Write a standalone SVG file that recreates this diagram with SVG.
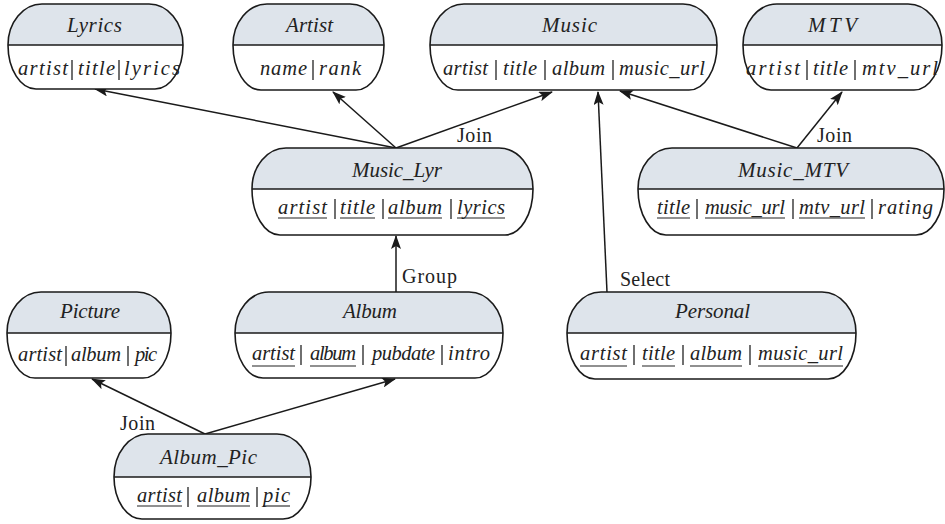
<svg xmlns="http://www.w3.org/2000/svg" width="945" height="524" viewBox="0 0 945 524">
<style>
.out{fill:none;stroke:#1a1a1a;stroke-width:1.6}
.hdr{fill:#dee4eb;stroke:none}
.bg{fill:#ffffff;stroke:none}
.dv{stroke:#1a1a1a;stroke-width:1.6}
.t{font-family:"Liberation Serif","DejaVu Serif",serif;font-style:italic;font-size:21px;fill:#222}
.a{font-family:"Liberation Serif","DejaVu Serif",serif;font-style:italic;font-size:20.5px;fill:#222}
.s{stroke:#222;stroke-width:1.3}
.u{stroke:#222;stroke-width:1.1}
.lbl{font-family:"Liberation Serif","DejaVu Serif",serif;font-size:20px;fill:#222}
.c{fill:none;stroke:#1a1a1a;stroke-width:1.5}
</style>
<defs>
<marker id="ah" markerWidth="14" markerHeight="10" refX="13" refY="5" orient="auto" markerUnits="userSpaceOnUse">
<path d="M0,0 L14,5 L0,10 L3,5 z" fill="#1a1a1a"/>
</marker>
</defs>

<g id="connectors">
<line class="c" x1="396" y1="148" x2="95" y2="89" marker-end="url(#ah)"/>
<line class="c" x1="396" y1="148" x2="333" y2="92" marker-end="url(#ah)"/>
<line class="c" x1="396" y1="148" x2="552" y2="92" marker-end="url(#ah)"/>
<line class="c" x1="797" y1="148" x2="620" y2="91" marker-end="url(#ah)"/>
<line class="c" x1="797" y1="148" x2="842" y2="92" marker-end="url(#ah)"/>
<line class="c" x1="607" y1="292" x2="598" y2="92" marker-end="url(#ah)"/>
<line class="c" x1="396" y1="292" x2="396" y2="236" marker-end="url(#ah)"/>
<line class="c" x1="205" y1="434" x2="92" y2="379" marker-end="url(#ah)"/>
<line class="c" x1="205" y1="434" x2="395" y2="379" marker-end="url(#ah)"/>
<text class="lbl" x="457" y="142" textLength="35">Join</text>
<text class="lbl" x="817" y="142" textLength="35">Join</text>
<text class="lbl" x="402" y="283" textLength="55">Group</text>
<text class="lbl" x="620" y="286" textLength="50">Select</text>
<text class="lbl" x="120" y="430" textLength="35">Join</text>
</g>

<g id="lyrics">
<path class="bg" d="M42,4 H149 A34 41 0 0 1 183,45 A28 44 0 0 1 155,89 H36 A28 44 0 0 1 8,45 A34 41 0 0 1 42,4 Z"/>
<path class="hdr" d="M8,45 A34 41 0 0 1 42,4 H149 A34 41 0 0 1 183,45 Z"/>
<line class="dv" x1="8" y1="45" x2="183" y2="45"/>
<path class="out" d="M42,4 H149 A34 41 0 0 1 183,45 A28 44 0 0 1 155,89 H36 A28 44 0 0 1 8,45 A34 41 0 0 1 42,4 Z"/>
<text class="t" x="67" y="32" textLength="55">Lyrics</text>
<text class="a" x="18" y="75" textLength="50">artist</text>
<line class="s" x1="72" y1="60" x2="72" y2="80"/>
<text class="a" x="78" y="75" textLength="37">title</text>
<line class="s" x1="119" y1="60" x2="119" y2="80"/>
<text class="a" x="124" y="75" textLength="56">lyrics</text>
</g>

<g id="artist">
<path class="bg" d="M267,4 H350 A34 41 0 0 1 384,45 A28 45 0 0 1 356,90 H261 A28 45 0 0 1 233,45 A34 41 0 0 1 267,4 Z"/>
<path class="hdr" d="M233,45 A34 41 0 0 1 267,4 H350 A34 41 0 0 1 384,45 Z"/>
<line class="dv" x1="233" y1="45" x2="384" y2="45"/>
<path class="out" d="M267,4 H350 A34 41 0 0 1 384,45 A28 45 0 0 1 356,90 H261 A28 45 0 0 1 233,45 A34 41 0 0 1 267,4 Z"/>
<text class="t" x="286" y="32" textLength="47">Artist</text>
<text class="a" x="260" y="75" textLength="47">name</text>
<line class="s" x1="313" y1="60" x2="313" y2="80"/>
<text class="a" x="319" y="75" textLength="42">rank</text>
</g>

<g id="music">
<path class="bg" d="M464,4 H683 A34 41 0 0 1 717,45 A28 45 0 0 1 689,90 H458 A28 45 0 0 1 430,45 A34 41 0 0 1 464,4 Z"/>
<path class="hdr" d="M430,45 A34 41 0 0 1 464,4 H683 A34 41 0 0 1 717,45 Z"/>
<line class="dv" x1="430" y1="45" x2="717" y2="45"/>
<path class="out" d="M464,4 H683 A34 41 0 0 1 717,45 A28 45 0 0 1 689,90 H458 A28 45 0 0 1 430,45 A34 41 0 0 1 464,4 Z"/>
<text class="t" x="542" y="32" textLength="55">Music</text>
<text class="a" x="443" y="75" textLength="45">artist</text>
<line class="s" x1="496" y1="60" x2="496" y2="80"/>
<text class="a" x="503" y="75" textLength="34">title</text>
<line class="s" x1="545" y1="60" x2="545" y2="80"/>
<text class="a" x="552" y="75" textLength="53">album</text>
<line class="s" x1="613" y1="60" x2="613" y2="80"/>
<text class="a" x="619" y="75" textLength="86">music_url</text>
</g>

<g id="mtv">
<path class="bg" d="M777,4 H908 A34 41 0 0 1 942,45 A28 45 0 0 1 914,90 H771 A28 45 0 0 1 743,45 A34 41 0 0 1 777,4 Z"/>
<path class="hdr" d="M743,45 A34 41 0 0 1 777,4 H908 A34 41 0 0 1 942,45 Z"/>
<line class="dv" x1="743" y1="45" x2="942" y2="45"/>
<path class="out" d="M777,4 H908 A34 41 0 0 1 942,45 A28 45 0 0 1 914,90 H771 A28 45 0 0 1 743,45 A34 41 0 0 1 777,4 Z"/>
<text class="t" x="808" y="32" textLength="49">MTV</text>
<text class="a" x="746" y="75" textLength="54">artist</text>
<line class="s" x1="807" y1="60" x2="807" y2="80"/>
<text class="a" x="813" y="75" textLength="35">title</text>
<line class="s" x1="855" y1="60" x2="855" y2="80"/>
<text class="a" x="862" y="75" textLength="76">mtv_url</text>
</g>

<g id="music_lyr">
<path class="bg" d="M286,148 H499 A34 41 0 0 1 533,189 A28 46 0 0 1 505,235 H280 A28 46 0 0 1 252,189 A34 41 0 0 1 286,148 Z"/>
<path class="hdr" d="M252,189 A34 41 0 0 1 286,148 H499 A34 41 0 0 1 533,189 Z"/>
<line class="dv" x1="252" y1="189" x2="533" y2="189"/>
<path class="out" d="M286,148 H499 A34 41 0 0 1 533,189 A28 46 0 0 1 505,235 H280 A28 46 0 0 1 252,189 A34 41 0 0 1 286,148 Z"/>
<text class="t" x="352" y="177" textLength="90">Music_Lyr</text>
<text class="a" x="278" y="214" textLength="49">artist</text>
<line class="s" x1="335" y1="199" x2="335" y2="219"/>
<text class="a" x="340" y="214" textLength="35">title</text>
<line class="s" x1="383" y1="199" x2="383" y2="219"/>
<text class="a" x="388" y="214" textLength="54">album</text>
<line class="s" x1="451" y1="199" x2="451" y2="219"/>
<text class="a" x="457" y="214" textLength="48">lyrics</text>
<line class="u" x1="278" y1="218" x2="327" y2="218"/>
<line class="u" x1="340" y1="218" x2="375" y2="218"/>
<line class="u" x1="388" y1="218" x2="442" y2="218"/>
<line class="u" x1="457" y1="218" x2="505" y2="218"/>
</g>

<g id="music_mtv">
<path class="bg" d="M672,148 H910 A34 41 0 0 1 944,189 A28 46 0 0 1 916,235 H666 A28 46 0 0 1 638,189 A34 41 0 0 1 672,148 Z"/>
<path class="hdr" d="M638,189 A34 41 0 0 1 672,148 H910 A34 41 0 0 1 944,189 Z"/>
<line class="dv" x1="638" y1="189" x2="944" y2="189"/>
<path class="out" d="M672,148 H910 A34 41 0 0 1 944,189 A28 46 0 0 1 916,235 H666 A28 46 0 0 1 638,189 A34 41 0 0 1 672,148 Z"/>
<text class="t" x="738" y="177" textLength="110">Music_MTV</text>
<text class="a" x="657" y="214" textLength="33">title</text>
<line class="s" x1="697" y1="199" x2="697" y2="219"/>
<text class="a" x="705" y="214" textLength="80">music_url</text>
<line class="s" x1="793" y1="199" x2="793" y2="219"/>
<text class="a" x="799" y="214" textLength="66">mtv_url</text>
<line class="s" x1="872" y1="199" x2="872" y2="219"/>
<text class="a" x="878" y="214" textLength="55">rating</text>
<line class="u" x1="657" y1="218" x2="690" y2="218"/>
<line class="u" x1="705" y1="218" x2="785" y2="218"/>
<line class="u" x1="799" y1="218" x2="865" y2="218"/>
</g>

<g id="picture">
<path class="bg" d="M41,292 H137 A34 41 0 0 1 171,333 A28 45 0 0 1 143,378 H35 A28 45 0 0 1 7,333 A34 41 0 0 1 41,292 Z"/>
<path class="hdr" d="M7,333 A34 41 0 0 1 41,292 H137 A34 41 0 0 1 171,333 Z"/>
<line class="dv" x1="7" y1="333" x2="171" y2="333"/>
<path class="out" d="M41,292 H137 A34 41 0 0 1 171,333 A28 45 0 0 1 143,378 H35 A28 45 0 0 1 7,333 A34 41 0 0 1 41,292 Z"/>
<text class="t" x="60" y="318" textLength="60">Picture</text>
<text class="a" x="18" y="361" textLength="44">artist</text>
<line class="s" x1="66" y1="346" x2="66" y2="366"/>
<text class="a" x="71" y="361" textLength="50">album</text>
<line class="s" x1="128" y1="346" x2="128" y2="366"/>
<text class="a" x="135" y="361" textLength="22">pic</text>
</g>

<g id="album">
<path class="bg" d="M269,292 H469 A34 41 0 0 1 503,333 A28 45 0 0 1 475,378 H263 A28 45 0 0 1 235,333 A34 41 0 0 1 269,292 Z"/>
<path class="hdr" d="M235,333 A34 41 0 0 1 269,292 H469 A34 41 0 0 1 503,333 Z"/>
<line class="dv" x1="235" y1="333" x2="503" y2="333"/>
<path class="out" d="M269,292 H469 A34 41 0 0 1 503,333 A28 45 0 0 1 475,378 H263 A28 45 0 0 1 235,333 A34 41 0 0 1 269,292 Z"/>
<text class="t" x="343" y="318" textLength="54">Album</text>
<text class="a" x="252" y="360" textLength="43">artist</text>
<line class="s" x1="301" y1="345" x2="301" y2="365"/>
<text class="a" x="310" y="360" textLength="46">album</text>
<line class="s" x1="363" y1="345" x2="363" y2="365"/>
<text class="a" x="372" y="360" textLength="63">pubdate</text>
<line class="s" x1="442" y1="345" x2="442" y2="365"/>
<text class="a" x="448" y="360" textLength="42">intro</text>
<line class="u" x1="252" y1="366" x2="295" y2="366"/>
<line class="u" x1="310" y1="366" x2="356" y2="366"/>
</g>

<g id="personal">
<path class="bg" d="M601,292 H822 A34 41 0 0 1 856,333 A28 46 0 0 1 828,379 H595 A28 46 0 0 1 567,333 A34 41 0 0 1 601,292 Z"/>
<path class="hdr" d="M567,333 A34 41 0 0 1 601,292 H822 A34 41 0 0 1 856,333 Z"/>
<line class="dv" x1="567" y1="333" x2="856" y2="333"/>
<path class="out" d="M601,292 H822 A34 41 0 0 1 856,333 A28 46 0 0 1 828,379 H595 A28 46 0 0 1 567,333 A34 41 0 0 1 601,292 Z"/>
<text class="t" x="675" y="318" textLength="75">Personal</text>
<text class="a" x="580" y="360" textLength="47">artist</text>
<line class="s" x1="634" y1="345" x2="634" y2="365"/>
<text class="a" x="642" y="360" textLength="33">title</text>
<line class="s" x1="683" y1="345" x2="683" y2="365"/>
<text class="a" x="690" y="360" textLength="52">album</text>
<line class="s" x1="750" y1="345" x2="750" y2="365"/>
<text class="a" x="758" y="360" textLength="85">music_url</text>
<line class="u" x1="580" y1="366" x2="627" y2="366"/>
<line class="u" x1="642" y1="366" x2="675" y2="366"/>
<line class="u" x1="690" y1="366" x2="742" y2="366"/>
<line class="u" x1="758" y1="366" x2="843" y2="366"/>
</g>

<g id="album_pic">
<path class="bg" d="M148,434 H277 A34 43 0 0 1 311,477 A28 42 0 0 1 283,519 H142 A28 42 0 0 1 114,477 A34 43 0 0 1 148,434 Z"/>
<path class="hdr" d="M114,477 A34 43 0 0 1 148,434 H277 A34 43 0 0 1 311,477 Z"/>
<line class="dv" x1="114" y1="477" x2="311" y2="477"/>
<path class="out" d="M148,434 H277 A34 43 0 0 1 311,477 A28 42 0 0 1 283,519 H142 A28 42 0 0 1 114,477 A34 43 0 0 1 148,434 Z"/>
<text class="t" x="160" y="464" textLength="97">Album_Pic</text>
<text class="a" x="137" y="502" textLength="45">artist</text>
<line class="s" x1="188" y1="487" x2="188" y2="507"/>
<text class="a" x="197" y="502" textLength="53">album</text>
<line class="s" x1="257" y1="487" x2="257" y2="507"/>
<text class="a" x="263" y="502" textLength="27">pic</text>
<line class="u" x1="137" y1="506" x2="182" y2="506"/>
<line class="u" x1="197" y1="506" x2="250" y2="506"/>
<line class="u" x1="263" y1="506" x2="290" y2="506"/>
</g>
</svg>
